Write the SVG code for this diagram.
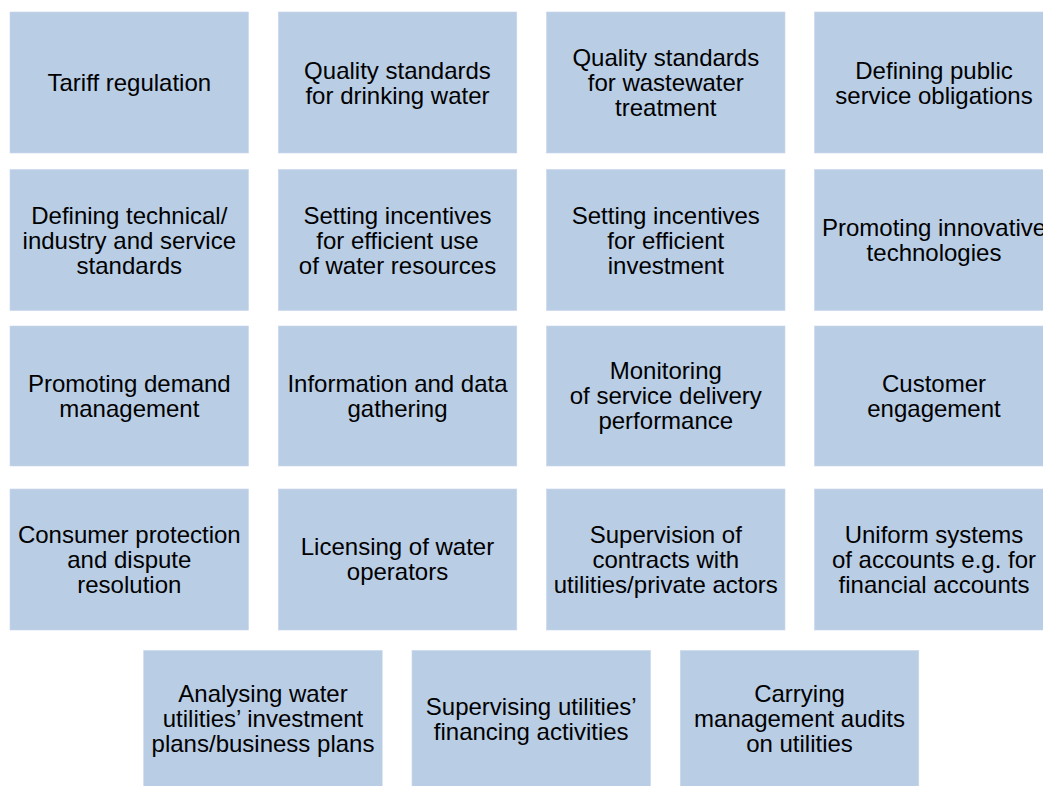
<svg xmlns="http://www.w3.org/2000/svg" width="1043" height="786" viewBox="0 0 1043 786">
<style>
.b{fill:#b9cde5;stroke:#c9d8ec;stroke-width:0.6}
text{font-family:"Liberation Sans",Arial,sans-serif;font-size:24px;fill:#000;text-anchor:middle}
</style>
<rect width="1043" height="786" fill="#fff"/>
<g id="connectors"/>
<g id="n1"><rect class="b" x="10" y="12" width="238.5" height="141"/><text x="129.3" y="91">Tariff regulation</text></g>
<g id="n2"><rect class="b" x="278.3" y="12" width="238.5" height="141"/><text x="397.5" y="78.5">Quality standards</text><text x="397.5" y="103.5">for drinking water</text></g>
<g id="n3"><rect class="b" x="546.5" y="12" width="238.5" height="141"/><text x="665.8" y="66">Quality standards</text><text x="665.8" y="91">for wastewater</text><text x="665.8" y="116">treatment</text></g>
<g id="n4"><rect class="b" x="814.5" y="12" width="238.5" height="141"/><text x="934" y="78.5">Defining public</text><text x="934" y="103.5">service obligations</text></g>

<g id="n5"><rect class="b" x="10" y="169.5" width="238.5" height="141"/><text x="129.3" y="223.5">Defining technical/</text><text x="129.3" y="248.5">industry and service</text><text x="129.3" y="273.5">standards</text></g>
<g id="n6"><rect class="b" x="278.3" y="169.5" width="238.5" height="141"/><text x="397.5" y="223.5">Setting incentives</text><text x="397.5" y="248.5">for efficient use</text><text x="397.5" y="273.5">of water resources</text></g>
<g id="n7"><rect class="b" x="546.5" y="169.5" width="238.5" height="141"/><text x="665.8" y="223.5">Setting incentives</text><text x="665.8" y="248.5">for efficient</text><text x="665.8" y="273.5">investment</text></g>
<g id="n8"><rect class="b" x="814.5" y="169.5" width="238.5" height="141"/><text x="934" y="236">Promoting innovative</text><text x="934" y="261">technologies</text></g>

<g id="n9"><rect class="b" x="10" y="326" width="238.5" height="140"/><text x="129.3" y="391.5">Promoting demand</text><text x="129.3" y="416.5">management</text></g>
<g id="n10"><rect class="b" x="278.3" y="326" width="238.5" height="140"/><text x="397.5" y="391.5">Information and data</text><text x="397.5" y="416.5">gathering</text></g>
<g id="n11"><rect class="b" x="546.5" y="326" width="238.5" height="140"/><text x="665.8" y="379">Monitoring</text><text x="665.8" y="404">of service delivery</text><text x="665.8" y="429">performance</text></g>
<g id="n12"><rect class="b" x="814.5" y="326" width="238.5" height="140"/><text x="934" y="391.5">Customer</text><text x="934" y="416.5">engagement</text></g>

<g id="n13"><rect class="b" x="10" y="489" width="238.5" height="141"/><text x="129.3" y="542.5">Consumer protection</text><text x="129.3" y="567.5">and dispute</text><text x="129.3" y="592.5">resolution</text></g>
<g id="n14"><rect class="b" x="278.3" y="489" width="238.5" height="141"/><text x="397.5" y="555">Licensing of water</text><text x="397.5" y="580">operators</text></g>
<g id="n15"><rect class="b" x="546.5" y="489" width="238.5" height="141"/><text x="665.8" y="542.5">Supervision of</text><text x="665.8" y="567.5">contracts with</text><text x="665.8" y="592.5">utilities/private actors</text></g>
<g id="n16"><rect class="b" x="814.5" y="489" width="238.5" height="141"/><text x="934" y="542.5">Uniform systems</text><text x="934" y="567.5">of accounts e.g. for</text><text x="934" y="592.5">financial accounts</text></g>

<g id="n17"><rect class="b" x="143.7" y="650.5" width="238.5" height="136"/><text x="263" y="702">Analysing water</text><text x="263" y="727">utilities’ investment</text><text x="263" y="752">plans/business plans</text></g>
<g id="n18"><rect class="b" x="412" y="650.5" width="238.5" height="136"/><text x="531.2" y="714.5">Supervising utilities’</text><text x="531.2" y="739.5">financing activities</text></g>
<g id="n19"><rect class="b" x="680.3" y="650.5" width="238.5" height="136"/><text x="799.5" y="702">Carrying</text><text x="799.5" y="727">management audits</text><text x="799.5" y="752">on utilities</text></g>
</svg>
